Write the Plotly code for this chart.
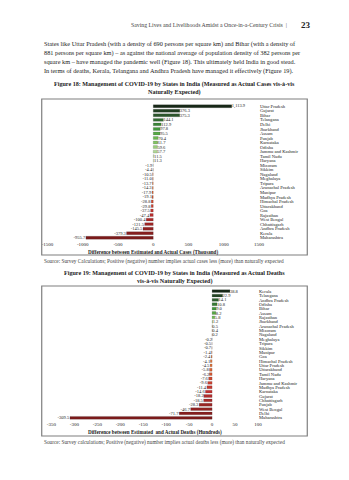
import plotly.graph_objects as go
from plotly.colors import sample_colorscale

# ---------------- data ----------------
states_cases = ["Uttar Pradesh", "Gujarat", "Bihar", "Telangana", "Delhi", "Jharkhand", "Assam",
                "Punjab", "Karnataka", "Odisha", "Jammu and Kashmir", "Tamil Nadu", "Haryana",
                "Mizoram", "Sikkim", "Nagaland", "Meghalaya", "Tripura", "Arunachal Pradesh",
                "Manipur", "Madhya Pradesh", "Himachal Pradesh", "Uttarakhand", "Goa", "Rajasthan",
                "West Bengal", "Chhattisgarh", "Andhra Pradesh", "Kerala", "Maharashtra"]
cases_diff = [1113.9, 376.3, 375.3, 144.1, 112.9, 97.8, 95.5, 70.4, 61.7, 59.6, 57.7, 11.5, 11.3,
              -1.9, -4.4, -10.5, -11.0, -13.7, -14.3, -17.9, -19.1, -28.8, -29.8, -37.5, -47.4,
              -100.4, -121.5, -145.5, -379.3, -955.7]

states_deaths = ["Kerala", "Telangana", "Andhra Pradesh", "Odisha", "Bihar", "Assam", "Rajasthan",
                 "Jharkhand", "Arunachal Pradesh", "Mizoram", "Nagaland", "Meghalaya", "Tripura",
                 "Sikkim", "Manipur", "Goa", "Himachal Pradesh", "Uttar Pradesh", "Uttarakhand",
                 "Tamil Nadu", "Haryana", "Jammu and Kashmir", "Madhya Pradesh", "Karnataka",
                 "Gujarat", "Chhattisgarh", "Punjab", "West Bengal", "Delhi", "Maharashtra"]
deaths_diff = [38.8, 22.9, 14.1, 10.8, 9.0, 8.2, 5.8, 1.2, 0.5, 0.4, 0.2, -0.2, -0.5, -0.7, -1.4,
               -2.4, -4.1, -4.5, -5.8, -6.2, -7.6, -9.6, -11.4, -14.6, -18.2, -18.5, -28.3, -46.7,
               -71.7, -309.5]

cases_ticks = [-1500, -1000, -500, 0, 500, 1000, 1500]
deaths_ticks = [-350, -300, -250, -200, -150, -100, -50, 0, 50, 100]

# ---------------- styling helpers ----------------
W, H = 349, 480
FONT = "Liberation Serif"
POS_SCALE = ["#172817", "#2f5f2f", "#3f953b", "#6fbb52", "#a8d58b", "#d8ecca"]
NEG_SCALE = ["#e9b0a0", "#e08a60", "#e07036", "#d04a30", "#c03030", "#9a2424", "#7c1a1a"]


def colors_for(vals):
    pos = [v for v in vals if v >= 0]
    neg = [v for v in vals if v < 0]
    out = []
    for v in vals:
        if v >= 0:
            r = sorted(pos, reverse=True).index(v)
            f = r / max(len(pos) - 1, 1)
            out.append(sample_colorscale(POS_SCALE, [f])[0])
        else:
            r = sorted(neg, reverse=True).index(v)
            f = r / max(len(neg) - 1, 1)
            out.append(sample_colorscale(NEG_SCALE, [f])[0])
    return out


def px(x):
    return x / W


def py(y):
    return 1 - y / H


fig = go.Figure()

fig.add_trace(go.Bar(
    x=cases_diff, y=states_cases, orientation="h",
    marker=dict(color=colors_for(cases_diff), line=dict(color="rgba(60,60,60,0.45)", width=0.4)),
    text=[f"{v:,.1f}" for v in cases_diff], textposition="outside", constraintext="none",
    textfont=dict(family=FONT, size=4.5, color="#222"), cliponaxis=False,
    xaxis="x", yaxis="y", hoverinfo="skip",
))
fig.add_trace(go.Bar(
    x=deaths_diff, y=states_deaths, orientation="h",
    marker=dict(color=colors_for(deaths_diff), line=dict(color="rgba(60,60,60,0.45)", width=0.4)),
    text=[f"{v:,.1f}" for v in deaths_diff], textposition="outside", constraintext="none",
    textfont=dict(family=FONT, size=4.5, color="#222"), cliponaxis=False,
    xaxis="x2", yaxis="y2", hoverinfo="skip",
))

axis_common = dict(showgrid=False, zeroline=False, showline=False, ticks="",
                   tickfont=dict(family=FONT, size=5, color="#222"))
cat_common = dict(showgrid=False, zeroline=False, showline=False, ticks="", side="right",
                  autorange="reversed", tickmode="linear", dtick=1,
                  tickfont=dict(family=FONT, size=4.6, color="#222"))

fig.update_layout(
    width=W, height=H, margin=dict(l=0, r=0, t=0, b=0),
    paper_bgcolor="white", plot_bgcolor="white", showlegend=False,
    bargap=0.35,
    font=dict(family=FONT, color="#222"),
    xaxis=dict(domain=[px(43), px(262)], range=[-1500, 1500], tickvals=cases_ticks,
               ticktext=[str(t) for t in cases_ticks], anchor="y", **axis_common),
    yaxis=dict(domain=[py(240), py(104)], anchor="x", **cat_common),
    xaxis2=dict(domain=[px(47), px(261)], range=[-350, 100], tickvals=deaths_ticks,
                ticktext=[str(t) for t in deaths_ticks], anchor="y2", **axis_common),
    yaxis2=dict(domain=[py(420), py(289)], anchor="x2", **cat_common),
)

# frames
for y0, y1 in [(99, 255), (286, 436)]:
    fig.add_shape(type="rect", xref="paper", yref="paper", x0=px(37), x1=px(312),
                  y0=py(y1), y1=py(y0), line=dict(color="#7f7f7f", width=1.2))


def note(text, x, y, size, anchor="left", bold=False, color="#222"):
    if bold:
        text = f"<b>{text}</b>"
    fig.add_annotation(text=text, x=px(x), y=py(y), xref="paper", yref="paper",
                       xanchor=anchor, yanchor="middle", showarrow=False,
                       font=dict(family=FONT, size=size, color=color))


# header
note("Saving Lives and Livelihoods Amidst a Once-in-a-Century Crisis  |", 293, 25, 5.8,
     anchor="right", color="#444")
note("23", 303, 25, 9, bold=True, color="#222")

# paragraph
para = [
    "States like Uttar Pradesh (with a density of 690 persons per square km) and Bihar (with a density of",
    "881 persons per square km) – as against the national average of population density of 382 persons per",
    "square km – have managed the pandemic well (Figure 18). This ultimately held India in good stead.",
    "In terms of deaths, Kerala, Telangana and Andhra Pradesh have managed it effectively (Figure 19).",
]
for i, line in enumerate(para):
    note(line, 37, 44 + 9 * i, 6.3)

# figure titles
note("Figure 18: Management of COVID-19 by States in India (Measured as Actual Cases vis-à-vis",
     174.5, 84, 6.1, anchor="center", bold=True)
note("Naturally Expected)", 174.5, 93, 6.1, anchor="center", bold=True)
note("Figure 19: Management of COVID-19 by States in India (Measured as Actual Deaths",
     174.5, 273, 6.1, anchor="center", bold=True)
note("vis-à-vis Naturally Expected)", 174.5, 281, 6.1, anchor="center", bold=True)

# axis titles
note("Difference between Estimated and Actual Cases (Thousand)", 152.5, 252, 5.1,
     anchor="center", bold=True)
note("Difference between Estimated  and Actual Deaths (Hundreds)", 154, 432, 5.1,
     anchor="center", bold=True)

# sources
note("Source: Survey Calculations; Positive (negative) number implies actual cases less (more) than naturally expected",
     37, 261, 5.3, color="#444")
note("Source: Survey calculations; Positive (negative) number implies actual deaths less (more) than naturally expected",
     37, 442, 5.3, color="#444")

fig.write_html("out.html", config={"displayModeBar": False})
